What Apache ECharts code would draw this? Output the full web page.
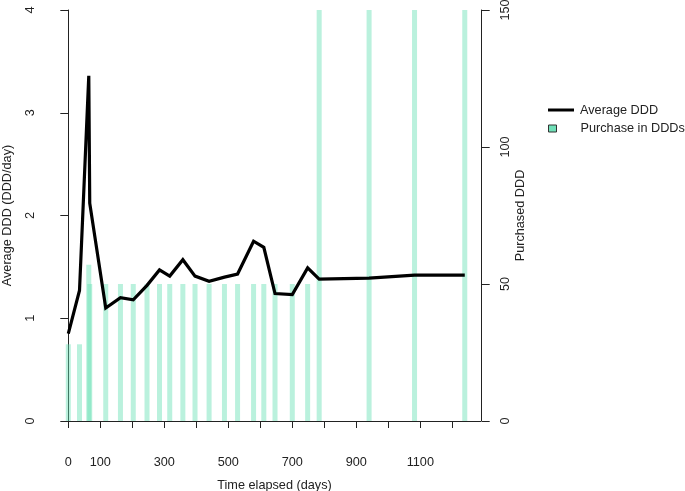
<!DOCTYPE html>
<html>
<head>
<meta charset="utf-8">
<script src="https://cdn.jsdelivr.net/npm/echarts@6/dist/echarts.min.js"></script>
<style>
html,body{margin:0;padding:0;background:#fff;}
#c{width:685px;height:491px;}
</style>
</head>
<body>
<div id="c"></div>
<script>
// Days of purchases / line vertices
var days = [0, 35, 64, 67, 117, 163, 203, 246, 285, 317, 358, 396, 440, 488, 529, 579, 611, 646, 700, 748, 784, 940, 1082, 1239];
// Average DDD (DDD/day), left axis
var avgDDD = [0.85, 1.27, 3.36, 2.12, 1.10, 1.20, 1.18, 1.32, 1.47, 1.41, 1.57, 1.41, 1.36, 1.40, 1.43, 1.75, 1.69, 1.24, 1.23, 1.49, 1.38, 1.39, 1.42, 1.42];
// Purchased DDD, right axis
var purchaseDDD = [28, 28, 57, 50, 50, 50, 50, 50, 50, 50, 50, 50, 50, 50, 50, 50, 50, 50, 50, 50, 150, 150, 150, 150];
// X tick labels that are shown
var xLabelsShown = [0, 100, 300, 500, 700, 900, 1100];

var lineData = days.map(function(d, i){ return [d, avgDDD[i]]; });
var barData = days.map(function(d, i){ return [d, purchaseDDD[i]]; });

var font = 'Liberation Sans, Arial, Helvetica, sans-serif';
var axCol = '#222';
var fs = 12.7;

var chart = echarts.init(document.getElementById('c'), null, {renderer: 'canvas'});
chart.setOption({
  animation: false,
  backgroundColor: '#fff',
  textStyle: {fontFamily: font},
  grid: [
    {left: 52.7, right: 203.3, top: 10, bottom: 70, containLabel: false, outerBoundsMode: 'none'},
    {left: 68.3, right: 204.3, top: 10, bottom: 70, containLabel: false, outerBoundsMode: 'none'}
  ],
  xAxis: [
    {gridIndex: 0, type: 'value', min: -48.75, max: 1291.9, show: false},
    {gridIndex: 1, type: 'value', min: 0, max: 1288.75, interval: 100, position: 'bottom', offset: 16,
     splitLine: {show: false},
     axisLine: {show: true, lineStyle: {color: axCol, width: 1}},
     axisTick: {show: true, length: 7, lineStyle: {color: axCol}},
     axisLabel: {margin: 19, fontSize: fs, color: axCol, fontFamily: font, showMaxLabel: false, hideOverlap: false,
       formatter: function(v){ return xLabelsShown.indexOf(v) >= 0 ? String(v) : ''; }},
     name: 'Time elapsed (days)', nameLocation: 'middle', nameGap: 42,
     nameTextStyle: {fontSize: fs, color: axCol, fontFamily: font}}
  ],
  yAxis: [
    {gridIndex: 0, type: 'value', min: 0, max: 4, interval: 1, position: 'left',
     splitLine: {show: false},
     axisLine: {show: true, lineStyle: {color: axCol}},
     axisTick: {show: true, length: 8, lineStyle: {color: axCol}},
     axisLabel: {rotate: 90, margin: 16, fontSize: fs, color: axCol, fontFamily: font},
     name: 'Average DDD (DDD/day)', nameLocation: 'middle', nameGap: 39, nameRotate: 90,
     nameTextStyle: {fontSize: fs, color: axCol, fontFamily: font}},
    {gridIndex: 0, type: 'value', min: 0, max: 150, interval: 50, position: 'right',
     splitLine: {show: false},
     axisLine: {show: true, lineStyle: {color: axCol}},
     axisTick: {show: true, length: 8, lineStyle: {color: axCol}},
     axisLabel: {rotate: 90, margin: 17, fontSize: fs, color: axCol, fontFamily: font},
     name: 'Purchased DDD', nameLocation: 'middle', nameGap: 32, nameRotate: 90, nameMoveOverlap: false,
     nameTextStyle: {fontSize: fs, color: axCol, fontFamily: font}},
    {gridIndex: 1, type: 'value', show: false}
  ],
  legend: [
    {orient: 'vertical', left: 543, top: 98.5, itemWidth: 26, itemHeight: 3, icon: 'rect',
     data: [{name: 'Average DDD', itemStyle: {color: '#000'}}],
     textStyle: {fontSize: fs, color: '#222', fontFamily: font, padding: [0, 0, 0, 1]}},
    {orient: 'vertical', left: 543, top: 117, itemWidth: 8, itemHeight: 7, icon: 'rect',
     data: [{name: 'Purchase in DDDs', itemStyle: {color: '#70e0b8', borderColor: '#333', borderWidth: 1}}],
     textStyle: {fontSize: fs, color: '#222', fontFamily: font, padding: [0, 0, 0, 19]}}
  ],
  series: [
    {name: 'Purchase in DDDs', type: 'bar', xAxisIndex: 0, yAxisIndex: 1, data: barData,
     barWidth: 5, itemStyle: {color: 'rgba(102,224,180,0.45)'}, z: 1},
    {name: 'Average DDD', type: 'line', xAxisIndex: 0, yAxisIndex: 0, data: lineData,
     showSymbol: false, symbol: 'none', lineStyle: {color: '#000', width: 3.2, join: 'miter'},
     itemStyle: {color: '#000'}, z: 3}
  ]
});
</script>
</body>
</html>
